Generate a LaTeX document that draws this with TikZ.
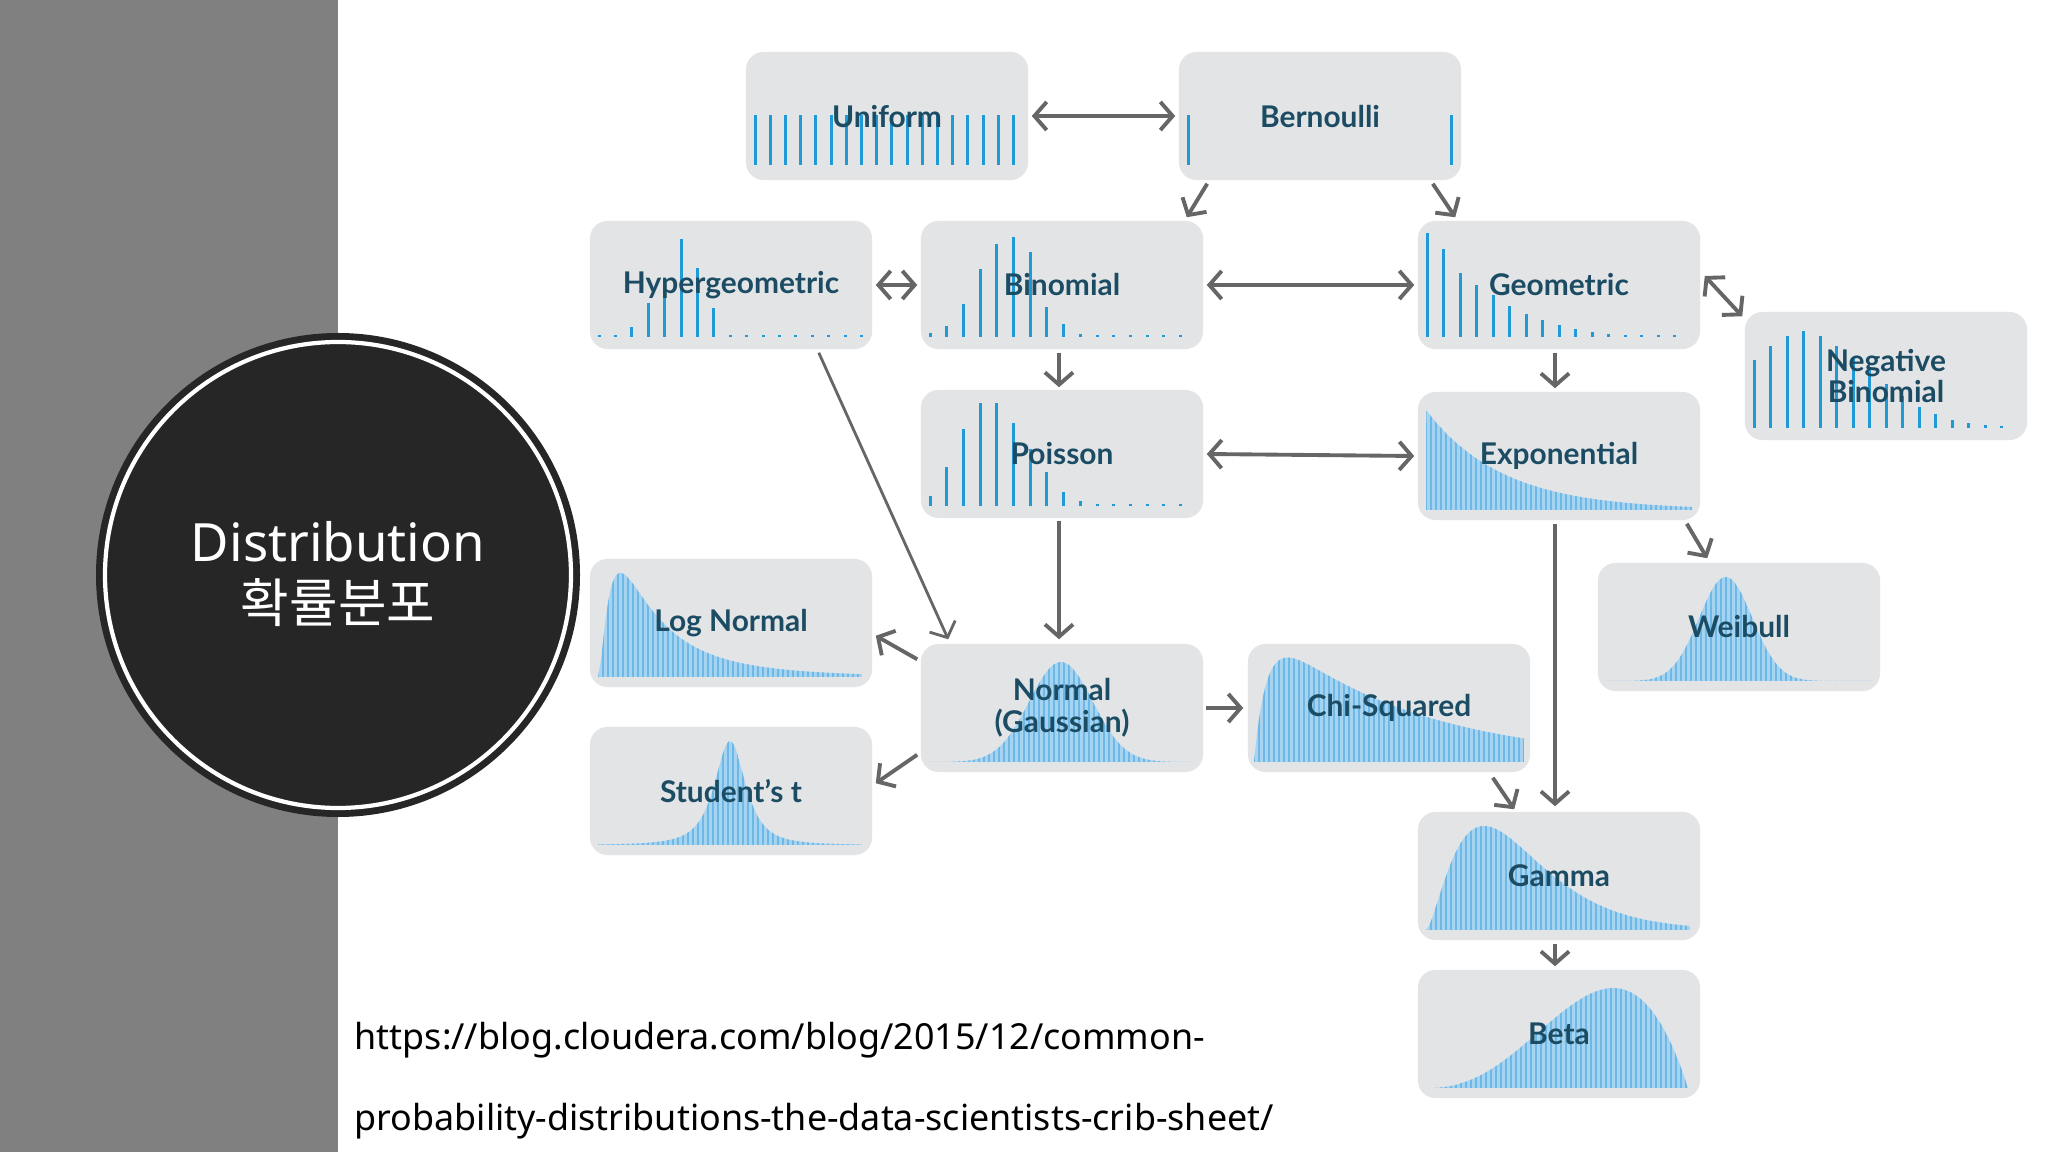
\documentclass[tikz,border=0pt]{standalone}
\usepackage{fontspec}
\setmainfont{Noto Sans}
\newfontfamily\lbl{Lato}
\newfontfamily\cjk{Noto Sans CJK KR}
\usetikzlibrary{arrows.meta,calc}
\definecolor{panel}{HTML}{808080}
\definecolor{disk}{HTML}{262626}
\definecolor{boxc}{HTML}{E3E4E6}
\definecolor{barc}{HTML}{1F9AD6}
\definecolor{cfill}{HTML}{A6D4F0}
\definecolor{cstr}{HTML}{6DB8E6}
\definecolor{lblc}{HTML}{1B4C63}
\definecolor{arrc}{HTML}{666666}
\tikzset{
 box/.style={fill=boxc,rounded corners=5,minimum width=2.82cm,minimum height=1.28cm,inner sep=0},
 bar/.style={draw=barc,line width=0.85pt},
 lab/.style={font=\lbl\bfseries\fontsize{8.5}{9}\selectfont,text=lblc,align=center,inner sep=1pt},
 arr/.style={draw=arrc,line width=1.1pt,-{Straight Barb[length=3.5pt,width=8pt]}},
 darr/.style={draw=arrc,line width=1.1pt,{Straight Barb[length=3.5pt,width=8pt]}-{Straight Barb[length=3.5pt,width=8pt]}},
}
\newcommand\mybars[5]{% start, spacing, maxh, baseline, list
 \foreach \h [count=\i from 0] in {#5} \draw[bar] ({#1+#2*\i},#4) -- ++(0,{-max(#3*\h,2)});}
\newcommand\cont[4]{% x0, width, height, f(\x)
 \begin{scope}
 \clip (#1,118) -- plot[domain=0.001:1,samples=90,variable=\x,smooth] ({#1+#2*\x},{118-#3*(#4)}) -- ({#1+#2},118) -- cycle;
 \fill[cfill] (#1,0) rectangle ({#1+#2},118);
 \foreach \k in {0,5,...,#2} \draw[cstr,line width=0.3pt] ({#1+\k},0) -- ({#1+\k},118);
 \end{scope}}
\begin{document}
\begin{tikzpicture}[x=0.01cm,y=-0.01cm]
\useasboundingbox (0,0) rectangle (2048,1152);
\fill[white] (0,0) rectangle (2048,1152);
\fill[panel] (0,0) rectangle (338,1152);
\fill[disk] (338,575) circle (242);
\draw[white,line width=1.2pt] (338,575) circle (233);
\node[text=white,align=center,font=\fontsize{15}{17.5}\selectfont] (title) at (338,574) {Distribution\\{\cjk 확률분포}};
\node[anchor=north west,align=left,font=\fontsize{10.2}{23}\selectfont,inner sep=0] (url) at (354,1022) {https://blog.cloudera.com/blog/2015/12/common-\\probability-distributions-the-data-scientists-crib-sheet/};

% Uniform
\begin{scope}[shift={(746,52)}]
\node[box] (uni) at (141,64) {};
\mybars{9}{15.2}{50}{113}{1,1,1,1,1,1,1,1,1,1,1,1,1,1,1,1,1,1}
\node[lab] (luni) at (141,65) {Uniform};
\end{scope}
% Bernoulli
\begin{scope}[shift={(1179,52)}]
\node[box] (ber) at (141,64) {};
\mybars{9}{263}{50}{113}{1,1}
\node[lab] (lber) at (141,65) {Bernoulli};
\end{scope}
% Hypergeometric
\begin{scope}[shift={(590,221)}]
\node[box] (hyp) at (141,64) {};
\mybars{9}{16.4}{98}{116}{0,0,.1,.35,.6,1,.7,.3,0,0,0,0,0,0,0,0,0}
\node[lab] (lhyp) at (141,64) {Hypergeometric};
\end{scope}
% Binomial
\begin{scope}[shift={(921,221)}]
\node[box] (bin) at (141,64) {};
\mybars{9}{16.7}{100}{116}{.04,.11,.33,.68,.93,1,.85,.3,.13,.03,0,0,0,0,0,0}
\node[lab] (lbin) at (141,64) {Binomial};
\end{scope}
% Geometric
\begin{scope}[shift={(1418,221)}]
\node[box] (geo) at (141,64) {};
\mybars{9}{16.5}{104}{116}{1,.85,.62,.5,.4,.3,.22,.16,.12,.08,.05,.03,0,0,0,0}
\node[lab] (lgeo) at (141,64) {Geometric};
\end{scope}
% Negative Binomial
\begin{scope}[shift={(1745,312)}]
\node[box] (nb) at (141,64) {};
\mybars{9}{16.5}{97}{116}{.7,.85,.95,1,.95,.85,.72,.6,.45,.33,.22,.14,.08,.05,.03,.02}
\node[lab] (lnb) at (141,64) {Negative\\Binomial};
\end{scope}
% Poisson
\begin{scope}[shift={(921,390)}]
\node[box] (poi) at (141,64) {};
\mybars{9}{16.7}{103}{116}{.1,.38,.75,1,1,.81,.55,.33,.14,.05,0,0,0,0,0,0}
\node[lab] (lpoi) at (141,64) {Poisson};
\end{scope}
% Exponential
\begin{scope}[shift={(1418,392)}]
\node[box] (exp) at (141,64) {};
\cont{8}{266}{100}{exp(-3.5*\x)}
\node[lab] (lexp) at (141,64) {Exponential};
\end{scope}
% Log Normal
\begin{scope}[shift={(590,559)}]
\node[box] (ln) at (141,64) {};
\cont{8}{264}{104}{exp(-(ln((\x+0.005)/0.09))^2/1.62)}
\node[lab] (lln) at (141,64) {Log Normal};
\end{scope}
% Weibull
\begin{scope}[shift={(1598,563)}]
\node[box] (wei) at (141,64) {};
\cont{8}{266}{104}{exp(-((\x-0.45)/0.1)^2/2)}
\node[lab] (lwei) at (141,64) {Weibull};
\end{scope}
% Normal
\begin{scope}[shift={(921,644)}]
\node[box] (nor) at (141,64) {};
\cont{8}{264}{100}{exp(-((\x-0.5)/0.12)^2/2)}
\node[lab] (lnor) at (141,64) {Normal\\(Gaussian)};
\end{scope}
% Chi-Squared
\begin{scope}[shift={(1248,644)}]
\node[box] (chi) at (141,64) {};
\cont{6}{270}{104}{(1-exp(-\x/0.05))*exp(-1.8*\x)/0.73}
\node[lab] (lchi) at (141,64) {Chi-Squared};
\end{scope}
% Student's t
\begin{scope}[shift={(590,727)}]
\node[box] (stu) at (141,64) {};
\cont{8}{264}{104}{(1+((\x-0.5)/0.09)^2)^(-1.5)}
\node[lab] (lstu) at (141,64) {Student’s t};
\end{scope}
% Gamma
\begin{scope}[shift={(1418,812)}]
\node[box] (gam) at (141,64) {};
\cont{8}{264}{104}{(\x/0.22)^1.6*exp(1.6*(1-\x/0.22))}
\node[lab] (lgam) at (141,64) {Gamma};
\end{scope}
% Beta
\begin{scope}[shift={(1418,970)}]
\node[box] (bet) at (141,64) {};
\cont{8}{262}{100}{(\x^2.5*(1-\x))/0.1233}
\node[lab] (lbet) at (141,64) {Beta};
\end{scope}

% connectors
\draw[darr] ($(uni.east)+(3,0)$) -- ($(ber.west)+(-3,0)$);
\draw[arr] ($(ber.south west)+(29,3)$) -- ($(bin.north east)+(-17,-3)$);
\draw[arr] ($(ber.south east)+(-29,3)$) -- ($(geo.north west)+(38,-3)$);
\draw[darr] ($(hyp.east)+(3,0)$) -- ($(bin.west)+(-3,0)$);
\draw[darr] ($(bin.east)+(3,0)$) -- ($(geo.west)+(-3,0)$);
\draw[darr] ($(geo.east)+(4,-9)$) -- ($(nb.north west)+(-2,5)$);
\draw[arr] ($(bin.south)+(-3,3)$) -- ($(poi.north)+(-3,-2)$);
\draw[arr] ($(geo.south)+(-4,3)$) -- ($(exp.north)+(-4,-3)$);
\draw[darr] ($(poi.east)+(3,0)$) -- ($(exp.west)+(-3,0)$);
\draw[arr,line width=0.8pt] ($(hyp.south east)+(-54,3)$) -- ($(nor.north west)+(28,-4)$);
\draw[arr] ($(poi.south)+(-3,2)$) -- ($(nor.north)+(-3,-4)$);
\draw[arr] ($(exp.south east)+(-14,3)$) -- ($(wei.north west)+(110,-4)$);
\draw[arr] ($(exp.south)+(-4,3)$) -- ($(gam.north)+(-4,-5)$);
\draw[arr] ($(nor.north west)+(-3,16)$) -- ($(ln.south east)+(3,-52)$);
\draw[arr] ($(nor.south west)+(-3,-18)$) -- ($(stu.north east)+(3,57)$);
\draw[arr] ($(nor.east)+(2,0)$) -- ($(chi.west)+(-4,0)$);
\draw[arr] ($(chi.south east)+(-38,5)$) -- ($(gam.north west)+(97,-2)$);
\draw[arr] ($(gam.south)+(-4,3)$) -- ($(bet.north)+(-4,-3)$);
\end{tikzpicture}
\end{document}
